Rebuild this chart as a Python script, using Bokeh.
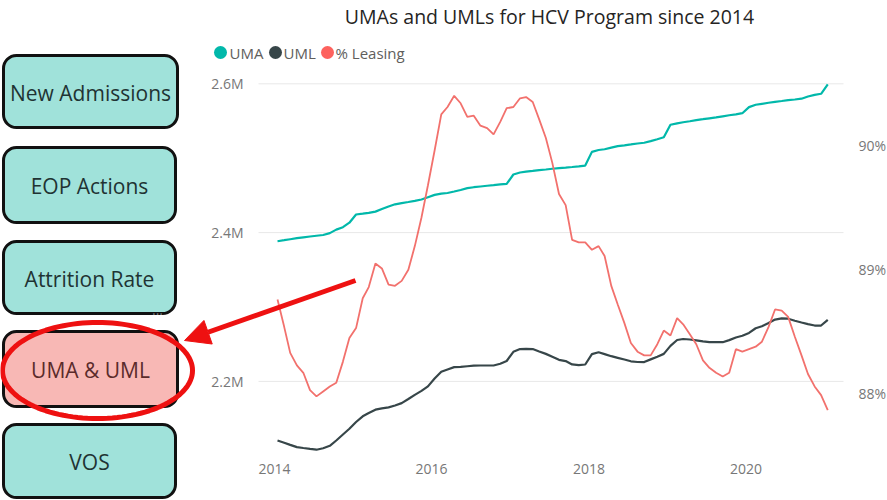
import math
import pandas as pd
from bokeh.plotting import figure
from bokeh.core.properties import value
from bokeh.models import (Range1d, LinearAxis, DatetimeAxis, FixedTicker, CustomJSTickFormatter,
                          DatetimeTickFormatter, BoxAnnotation, Label, Arrow, NormalHead,
                          PolyAnnotation)
from bokeh.embed import file_html
from bokeh.resources import INLINE

# ---------------- data ----------------
months = pd.date_range("2014-01-01", periods=85, freq="MS") + pd.Timedelta(days=14)

uma = [2388400, 2389800, 2391100, 2392500, 2393700, 2394800, 2395800, 2396800, 2399300, 2404000,
       2407300, 2413300, 2424300, 2425500, 2426600, 2428200, 2431600, 2435100, 2438000, 2439700,
       2441100, 2442700, 2444500, 2447600, 2450700, 2452300, 2453200, 2455200, 2457300, 2459700,
       2461000, 2462000, 2463000, 2463800, 2464700, 2465500, 2478100, 2480800, 2481900, 2482900,
       2484000, 2484800, 2485800, 2486600, 2487400, 2488200, 2489100, 2490100, 2508500, 2511000,
       2512000, 2514200, 2516300, 2517300, 2518500, 2519800, 2520800, 2523000, 2525500, 2528200,
       2544900, 2546800, 2548300, 2549700, 2551200, 2552400, 2553600, 2554800, 2556300, 2557700,
       2559000, 2560500, 2568700, 2571800, 2573100, 2574500, 2575800, 2576900, 2578000, 2578900,
       2580000, 2582900, 2585100, 2586600, 2599100]

uml = [2120600, 2117600, 2114700, 2111700, 2110500, 2109300, 2108200, 2110200, 2113400, 2120600,
       2128600, 2136300, 2145400, 2153100, 2157500, 2162000, 2163800, 2165100, 2167600, 2170800,
       2176300, 2181900, 2187200, 2193300, 2203800, 2213000, 2216000, 2219200, 2219600, 2220400,
       2221100, 2221400, 2221400, 2221400, 2223800, 2227400, 2239800, 2243500, 2243800, 2243500,
       2240300, 2237000, 2233100, 2229000, 2227300, 2222800, 2221900, 2222700, 2236600, 2239100,
       2236700, 2233900, 2231700, 2229400, 2227000, 2226100, 2226000, 2229600, 2233200, 2237000,
       2247800, 2255600, 2257000, 2256300, 2255200, 2253800, 2252700, 2252700, 2252700, 2255500,
       2259000, 2261300, 2265200, 2271400, 2274200, 2278600, 2283100, 2284800, 2284300, 2281600,
       2279200, 2277000, 2275100, 2275100, 2282800]

leasing = [88.76, 88.54, 88.33, 88.23, 88.17, 88.03, 87.98, 88.02, 88.06, 88.09,
           88.26, 88.45, 88.53, 88.77, 88.86, 89.05, 89.01, 88.88, 88.87, 88.91,
           89.00, 89.19, 89.42, 89.68, 89.96, 90.25, 90.31, 90.40, 90.34, 90.23,
           90.24, 90.16, 90.14, 90.09, 90.19, 90.30, 90.31, 90.38, 90.39, 90.35,
           90.21, 90.06, 89.86, 89.61, 89.52, 89.24, 89.22, 89.22, 89.16, 89.19,
           89.11, 88.87, 88.72, 88.57, 88.41, 88.34, 88.31, 88.31, 88.40, 88.51,
           88.47, 88.61, 88.56, 88.48, 88.40, 88.27, 88.21, 88.17, 88.14, 88.17,
           88.36, 88.34, 88.36, 88.38, 88.42, 88.54, 88.68, 88.67, 88.62, 88.46,
           88.31, 88.16, 88.06, 87.99, 87.87]

x_ticks = ["2014-01-01", "2016-01-01", "2018-01-01", "2020-01-01"]
left_ticks = [2200000, 2400000, 2600000]
right_ticks = [88, 89, 90]
series_names = ["UMA", "UML", "% Leasing"]
buttons = ["New Admissions", "EOP Actions", "Attrition Rate", "UMA & UML", "VOS"]
title_text = "UMAs and UMLs for HCV Program since 2014"

# ---------------- layout ----------------
W, H = 887, 500
PL, PR, PB = 258, 843, 453          # plot area edges (pixels)

MS_YEAR = 365.25 * 86400000.0
PX_YEAR = 78.6
X2014 = 274
t2014 = pd.Timestamp("2014-01-01").timestamp() * 1000.0

# left value axis: 2.6M at y=83.3, 744 px per million
M_TOP = 2600000 + 83.3 / 744 * 1e6
M_BOT = 2600000 - (H - 83.3) / 744 * 1e6
# right percent axis: 90% at y=145, 124.2 px per percent
P_TOP = 90 + 145 / 124.2
P_BOT = 90 - (H - 145) / 124.2

C_UMA, C_UML, C_LEASE = "#01B8AA", "#374649", "#F2716D"
TICK_C = "#777777"
FONT = "Open Sans"
RED = "#EE1111"

p = figure(width=W, height=H, output_backend="svg", toolbar_location=None,
           x_range=Range1d(0, W), y_range=Range1d(H, 0),
           x_axis_location=None, y_axis_location=None,
           min_border=0, min_border_left=0, min_border_right=0,
           min_border_top=0, min_border_bottom=0)
p.extra_x_ranges = {"t": Range1d(t2014 - X2014 / PX_YEAR * MS_YEAR,
                                 t2014 + (W - X2014) / PX_YEAR * MS_YEAR)}
p.extra_y_ranges = {"m": Range1d(M_BOT, M_TOP), "pct": Range1d(P_BOT, P_TOP)}
p.outline_line_color = None
p.background_fill_color = "white"
p.border_fill_color = "white"
p.xgrid.visible = False
p.ygrid.visible = False

# gridlines of the left value axis, limited to the plot area
p.segment(x0=PL, x1=PR, y0=left_ticks, y1=left_ticks, y_range_name="m",
          line_color="#E8E8E8", line_width=1)

# axes drawn at fixed locations inside the canvas
xax = DatetimeAxis(x_range_name="t", fixed_location=PB,
                   ticker=FixedTicker(ticks=[pd.Timestamp(s).timestamp() * 1000.0 for s in x_ticks]),
                   formatter=DatetimeTickFormatter(years="%Y", months="%Y", days="%Y", hours="%Y"))
lax = LinearAxis(y_range_name="m", fixed_location=PL, ticker=FixedTicker(ticks=left_ticks),
                 formatter=CustomJSTickFormatter(code="return (tick/1e6).toFixed(1) + 'M';"))
rax = LinearAxis(y_range_name="pct", fixed_location=PR, ticker=FixedTicker(ticks=right_ticks),
                 formatter=CustomJSTickFormatter(code="return tick.toFixed(0) + '%';"))
for ax in (xax, lax, rax):
    ax.axis_line_color = None
    ax.major_tick_line_color = None
    ax.minor_tick_line_color = None
    ax.major_label_text_color = TICK_C
    ax.major_label_text_font = FONT
    ax.major_label_text_font_size = "14px"
xax.major_label_standoff = 4
lax.major_label_standoff = 9
rax.major_label_standoff = 9
p.add_layout(xax, "below")
p.add_layout(lax, "left")
p.add_layout(rax, "right")

# lines
p.line(months, uma, line_color=C_UMA, line_width=2.2, x_range_name="t", y_range_name="m")
p.line(months, uml, line_color=C_UML, line_width=2.2, x_range_name="t", y_range_name="m")
p.line(months, leasing, line_color=C_LEASE, line_width=1.8, x_range_name="t", y_range_name="pct")

# legend row (circle markers + names)
LEG_MARK_X = [220, 275, 327]
LEG_TEXT_X = [229, 283, 335]
LEG_Y = 52
p.scatter(x=LEG_MARK_X, y=[LEG_Y] * 3, size=13, line_color=None,
          fill_color=[C_UMA, C_UML, "#FD625E"])
p.text(x=LEG_TEXT_X, y=[LEG_Y] * 3, text=series_names, text_align="left",
       text_baseline="middle", text_font=value(FONT), text_font_size="15px",
       text_color="#605E5C")

# title
p.add_layout(Label(x=549, y=16, text=title_text, text_align="center", text_baseline="middle",
                   text_font=FONT, text_font_size="19.5px", text_color="#252423"))

# navigation buttons
boxes = [(3, 177, 55, 127), (3, 175, 147, 222), (3, 175, 241, 313), (3, 177, 331, 406),
         (3, 175, 424, 497)]
for name, (bl, br, bt, bb) in zip(buttons, boxes):
    active = name == "UMA & UML"
    p.add_layout(BoxAnnotation(left=bl, right=br, top=bt, bottom=bb,
                               fill_color="#F8B8B5" if active else "#A0E2DA", fill_alpha=1,
                               line_color="#111111", line_alpha=1, line_width=3,
                               border_radius=13))
    p.add_layout(Label(x=(bl + br) / 2, y=(bt + bb) / 2 + 1, text=name,
                       text_align="center", text_baseline="middle", text_font=FONT,
                       text_font_size="21px",
                       text_color="#5B2B2B" if active else "#1F3333"))

p.add_layout(Label(x=157, y=309, text="...", text_align="center", text_baseline="middle",
                   text_font=FONT, text_font_size="14px", text_color="#777777"))

# highlight ellipse around the active button
cx, cy, rx, ry = 97, 370, 95, 48
ang = [2 * math.pi * k / 120 for k in range(120)]
p.add_layout(PolyAnnotation(xs=[cx + rx * math.cos(a) for a in ang],
                            ys=[cy + ry * math.sin(a) for a in ang],
                            fill_color=None, fill_alpha=0, line_color=RED, line_alpha=1,
                            line_width=5))

# arrow pointing to the active button
p.add_layout(Arrow(x_start=355, y_start=280, x_end=184, y_end=340, line_color=RED,
                   line_width=5, end=NormalHead(size=25, fill_color=RED, line_color=RED)))

open("out.html", "w").write(file_html(p, INLINE))
